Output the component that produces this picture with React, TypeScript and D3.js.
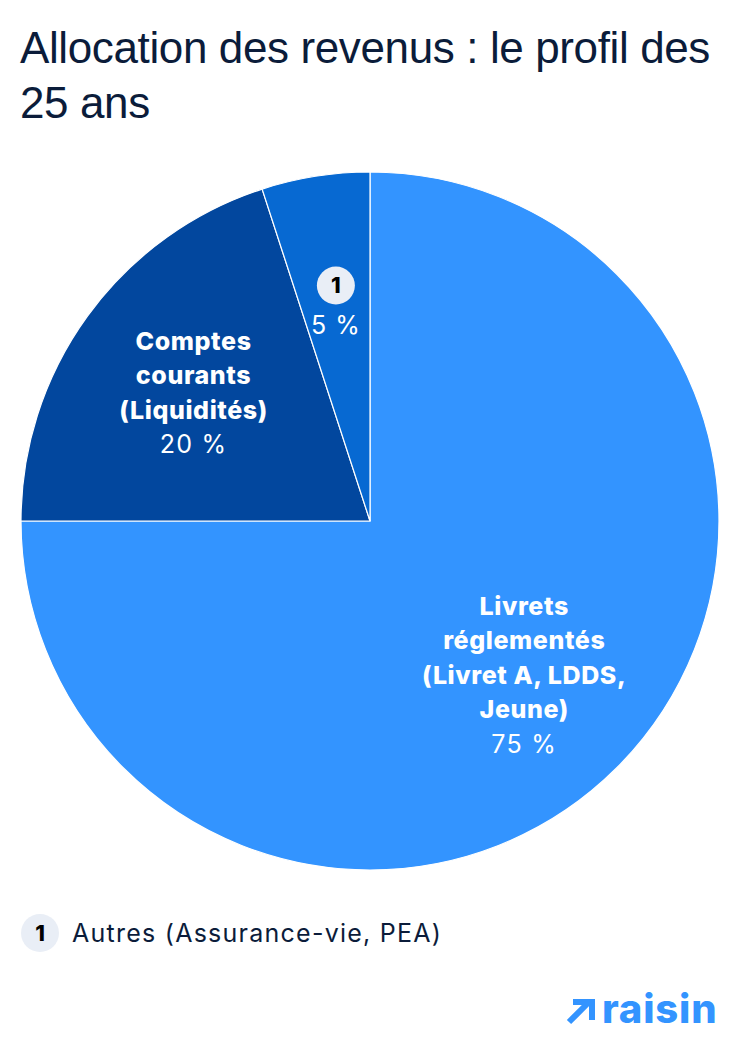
import * as d3 from "d3";

const categories = ["Livrets réglementés (Livret A, LDDS, Jeune)", "Comptes courants (Liquidités)", "Autres (Assurance-vie, PEA)"];
const values = [75, 20, 5];
const labelLines = [
  ["Livrets", "réglementés", "(Livret A, LDDS,", "Jeune)"],
  ["Comptes", "courants", "(Liquidités)"],
  [],
];
const colors = ["#3394FF", "#02479E", "#0769D2"];
const titleLines = ["Allocation des revenus : le profil des", "25 ans"];

const W = 740;
const H = 1048;
const cx = 370;
const cy = 521;
const R = 349;
const navy = "#0B1C3A";

export default function App() {
  const pie = d3.pie<number>().sort(null).value((d) => d);
  const arcs = pie(values);
  const arc = d3.arc<d3.PieArcDatum<number>>().innerRadius(0).outerRadius(R);
  const labelArc = d3
    .arc<d3.PieArcDatum<number>>()
    .innerRadius(R * 0.625)
    .outerRadius(R * 0.625);

  return (
    <svg
      width={W}
      height={H}
      style={{ display: "block", position: "absolute", left: 0, top: 0, background: "#fff" }}
      fontFamily="Inter, 'Noto Sans', sans-serif"
    >
      {titleLines.map((t, i) => (
        <text
          key={i}
          x={20}
          y={63 + i * 55}
          fontSize={44}
          fill={navy}
          fontFamily="'Liberation Sans', Arial, sans-serif"
          letterSpacing={-0.38}
        >
          {t}
        </text>
      ))}
      <g transform={`translate(${cx},${cy})`}>
        {arcs.map((a, i) => (
          <path key={i} d={arc(a) || ""} fill={colors[i]} stroke="#fff" strokeWidth={1.2} />
        ))}
        {arcs.map((a, i) => {
          const [x, y] = labelArc.centroid(a);
          const lines = labelLines[i];
          const lh = 34.5;
          if (lines.length === 0) {
            return (
              <g key={i} transform={`translate(${x},${y})`}>
                <circle cx={0} cy={-20} r={19} fill="#E9EEF6" />
                <text x={0} y={-12.5} textAnchor="middle" fontSize={22} fontWeight={800} fill="#000">
                  1
                </text>
                <text x={0} y={28} textAnchor="middle" fontSize={25} fill="#fff" letterSpacing={1}>
                  {values[i]} %
                </text>
              </g>
            );
          }
          const n = lines.length + 1;
          const y0 = y - ((n - 1) * lh) / 2;
          return (
            <g key={i}>
              {lines.map((l, j) => (
                <text
                  key={j}
                  x={x}
                  y={y0 + j * lh}
                  dy="0.35em"
                  textAnchor="middle"
                  fontSize={25}
                  fontWeight={800}
                  letterSpacing={0.6}
                  fill="#fff"
                >
                  {l}
                </text>
              ))}
              <text
                x={x}
                y={y0 + lines.length * lh}
                dy="0.35em"
                textAnchor="middle"
                fontSize={25}
                letterSpacing={1.3}
                fill="#fff"
              >
                {values[i]} %
              </text>
            </g>
          );
        })}
      </g>
      <circle cx={40} cy={933} r={19} fill="#E9EEF6" />
      <text x={40} y={941} textAnchor="middle" fontSize={22} fontWeight={800} fill="#000">
        1
      </text>
      <text x={72} y={942} fontSize={25} fill={navy} letterSpacing={1.25}>
        {categories[2]}
      </text>
      <g fill="#3394FF">
        <path
          d="M569 1022 L589 1002 M573 1002 L592 1002 L592 1020"
          stroke="#3394FF"
          strokeWidth={6}
          fill="none"
          strokeLinecap="butt"
        />
        <text x={602} y={1023} fontSize={40} fontWeight={800} letterSpacing={0.8}>
          raisin
        </text>
      </g>
    </svg>
  );
}
